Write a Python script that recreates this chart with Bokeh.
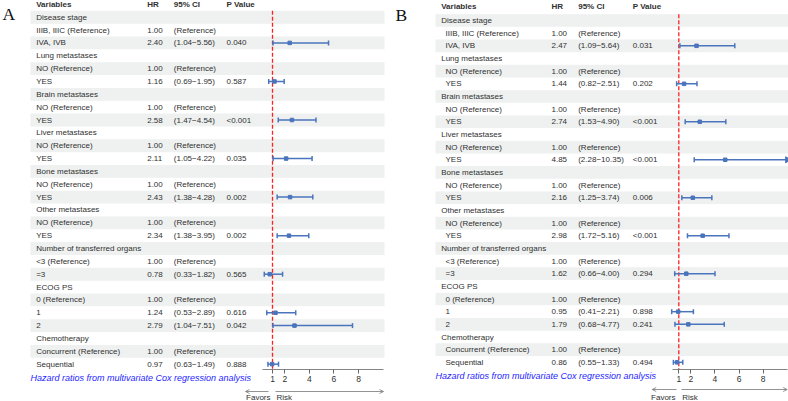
import math

from bokeh.core.properties import value
from bokeh.embed import file_html
from bokeh.layouts import row
from bokeh.models import Arrow, FixedTicker, Label, LinearAxis, OpenHead, Range1d
from bokeh.plotting import figure
from bokeh.resources import INLINE

NA = float("nan")

# Row labels shared by both models; group rows carry no estimate
variables = ["Disease stage", "IIIB, IIIC (Reference)", "IVA, IVB",
             "Lung metastases", "NO (Reference)", "YES",
             "Brain metastases", "NO (Reference)", "YES",
             "Liver metastases", "NO (Reference)", "YES",
             "Bone metastases", "NO (Reference)", "YES",
             "Other metastases", "NO (Reference)", "YES",
             "Number of transferred organs", "<3 (Reference)", "=3",
             "ECOG PS", "0 (Reference)", "1", "2",
             "Chemotherapy", "Concurrent (Reference)", "Sequential"]
group_rows = [0, 3, 6, 9, 12, 15, 18, 21, 25]

# Model A
hr_a = [NA, 1.00, 2.40, NA, 1.00, 1.16, NA, 1.00, 2.58, NA, 1.00, 2.11, NA, 1.00, 2.43,
        NA, 1.00, 2.34, NA, 1.00, 0.78, NA, 1.00, 1.24, 2.79, NA, 1.00, 0.97]
lo_a = [NA, NA, 1.04, NA, NA, 0.69, NA, NA, 1.47, NA, NA, 1.05, NA, NA, 1.38,
        NA, NA, 1.38, NA, NA, 0.33, NA, NA, 0.53, 1.04, NA, NA, 0.63]
hi_a = [NA, NA, 5.56, NA, NA, 1.95, NA, NA, 4.54, NA, NA, 4.22, NA, NA, 4.28,
        NA, NA, 3.95, NA, NA, 1.82, NA, NA, 2.89, 7.51, NA, NA, 1.49]
p_a = ["", "", "0.040", "", "", "0.587", "", "", "<0.001", "", "", "0.035", "", "", "0.002",
       "", "", "0.002", "", "", "0.565", "", "", "0.616", "0.042", "", "", "0.888"]

# Model B
hr_b = [NA, 1.00, 2.47, NA, 1.00, 1.44, NA, 1.00, 2.74, NA, 1.00, 4.85, NA, 1.00, 2.16,
        NA, 1.00, 2.98, NA, 1.00, 1.62, NA, 1.00, 0.95, 1.79, NA, 1.00, 0.86]
lo_b = [NA, NA, 1.09, NA, NA, 0.82, NA, NA, 1.53, NA, NA, 2.28, NA, NA, 1.25,
        NA, NA, 1.72, NA, NA, 0.66, NA, NA, 0.41, 0.68, NA, NA, 0.55]
hi_b = [NA, NA, 5.64, NA, NA, 2.51, NA, NA, 4.90, NA, NA, 10.35, NA, NA, 3.74,
        NA, NA, 5.16, NA, NA, 4.00, NA, NA, 2.21, 4.77, NA, NA, 1.33]
p_b = ["", "", "0.031", "", "", "0.202", "", "", "<0.001", "", "", "<0.001", "", "", "0.006",
       "", "", "<0.001", "", "", "0.294", "", "", "0.898", "0.241", "", "", "0.494"]

ticks = [1, 2, 4, 6, 8]
ref_hr = 1.0
headers = ["Variables", "HR", "95% CI", "P Value"]
footnote = "Hazard ratios from multivariate Cox regression analysis"
arrow_labels = ["Favors", "Risk"]

W, H = 394, 401
AXIS_PX = 369          # vertical pixel where the x axis sits
FONT = "Liberation Sans"
STRIPE = "#EEF1F0"
CI_COLOR = "#4A74BC"
TEXT = "#303030"
GREY = "#777777"


def panel(letter, hr, lo, hi, pv, lay):
    n = len(variables)
    y0, dy = lay["row1"], lay["step"]
    one, ppu = lay["one"], lay["ppu"]

    def row_at(px):
        return 1 + (px - y0) / dy

    p = figure(width=W, height=H, output_backend="svg", toolbar_location=None,
               x_range=Range1d(1 - one / ppu, 1 + (W - one) / ppu),
               y_range=Range1d(row_at(H), row_at(0)),
               x_axis_location=None, y_axis_location=None,
               min_border_left=0, min_border_right=0, min_border_top=0,
               min_border_bottom=0)
    p.extra_x_ranges = {"tbl": Range1d(0, W)}
    p.extra_y_ranges = {"px": Range1d(H, 0)}
    p.outline_line_color = None
    p.grid.visible = False
    p.background_fill_color = "white"
    p.border_fill_color = "white"

    rows = list(range(1, n + 1))

    # zebra stripes on alternate rows
    sr = [r for r in rows if r % 2 == 1]
    p.quad(left=lay["x0"], right=lay["x1"], top=[r - 0.5 for r in sr],
           bottom=[r + 0.5 for r in sr], x_range_name="tbl",
           fill_color=STRIPE, line_color=None)

    # table columns
    var_x = [lay["var"] if i in group_rows else lay["var"] + lay["indent"] for i in range(n)]
    hr_txt = ["" if math.isnan(h) else f"{h:.2f}" for h in hr]
    ci_txt = ["" if math.isnan(h) else
              ("(Reference)" if math.isnan(l) else f"({l:.2f}\u2212{u:.2f})")
              for h, l, u in zip(hr, lo, hi)]
    common = dict(x_range_name="tbl", text_font=value(FONT), text_font_size="8px",
                  text_baseline="middle", text_align="left", text_color=TEXT)
    p.text(x=var_x, y=rows, text=variables, **common)
    p.text(x=[lay["hr"]] * n, y=rows, text=hr_txt, **common)
    p.text(x=[lay["ci"]] * n, y=rows, text=ci_txt, **common)
    p.text(x=[lay["p"]] * n, y=rows, text=pv, **common)

    # header row
    hdr = dict(common)
    hdr["text_font_style"] = "bold"
    hdr["y_range_name"] = "px"
    p.text(x=[lay["var"], lay["hr"], lay["ci"], lay["p"]], y=[lay["head"]] * 4,
           text=headers, **hdr)

    # reference line at HR = 1
    p.segment(x0=[ref_hr], y0=[0.5], x1=[ref_hr], y1=[row_at(AXIS_PX)],
              line_color="#FF2020", line_width=1.3, line_dash="4 2")

    # confidence intervals
    xmax = lay["xlim"][1]
    idx = [i for i in range(n) if not math.isnan(lo[i])]
    ys = [rows[i] for i in idx]
    los = [lo[i] for i in idx]
    his = [min(hi[i], xmax) for i in idx]
    p.segment(x0=los, y0=ys, x1=his, y1=ys, line_color=CI_COLOR, line_width=1.5)
    p.scatter(x=los, y=ys, marker="dash", angle=math.pi / 2, size=5,
              line_color=CI_COLOR, line_width=1.5)
    capx = [hi[i] for i in idx if hi[i] <= xmax]
    capy = [rows[i] for i in idx if hi[i] <= xmax]
    p.scatter(x=capx, y=capy, marker="dash", angle=math.pi / 2, size=5,
              line_color=CI_COLOR, line_width=1.5)
    over = [rows[i] for i in idx if hi[i] > xmax]
    if over:
        p.scatter(x=[xmax] * len(over), y=over, marker="triangle", angle=-math.pi / 2,
                  size=6, fill_color=CI_COLOR, line_color=CI_COLOR)
    p.scatter(x=[hr[i] for i in idx], y=ys, marker="square", size=3.5,
              fill_color=CI_COLOR, line_color=CI_COLOR)

    # x axis drawn inside the frame, just under the last row
    ax = LinearAxis(ticker=FixedTicker(ticks=ticks), bounds=lay["xlim"],
                    fixed_location=row_at(AXIS_PX),
                    axis_line_color="#666666", axis_line_width=0.8,
                    major_tick_line_color="#666666", major_tick_out=4, major_tick_in=0,
                    minor_tick_out=0, minor_tick_in=0,
                    major_label_text_font=FONT, major_label_text_font_size="8.5px",
                    major_label_text_color=TEXT, major_label_standoff=2)
    p.add_layout(ax, "below")

    # panel letter
    p.add_layout(Label(x=lay["letter_x"], y=lay["letter_y"], x_range_name="tbl",
                       y_range_name="px", text=letter, text_font="Liberation Serif",
                       text_font_size="17.5px", text_baseline="top", text_color="#111111"))

    # footnote
    p.add_layout(Label(x=lay["x0"], y=lay["foot_y"], x_range_name="tbl", y_range_name="px",
                       text=footnote, text_font=FONT, text_font_style="italic",
                       text_font_size="9px", text_baseline="middle", text_color="#1E1EFF"))

    # direction arrows under the axis
    ay = lay["arrow_y"]
    for xs, xe in (lay["left_arrow"], lay["right_arrow"]):
        p.add_layout(Arrow(x_start=xs, y_start=ay, x_end=xe, y_end=ay,
                           x_range_name="tbl", y_range_name="px",
                           line_color=GREY, line_width=0.8,
                           end=OpenHead(size=4, line_color=GREY, line_width=0.8)))
    p.add_layout(Label(x=lay["favors_x"], y=lay["lab_y"], x_range_name="tbl",
                       y_range_name="px", text=arrow_labels[0], text_font=FONT,
                       text_font_size="8px", text_align="right", text_baseline="middle",
                       text_color=TEXT))
    p.add_layout(Label(x=lay["risk_x"], y=lay["lab_y"], x_range_name="tbl",
                       y_range_name="px", text=arrow_labels[1], text_font=FONT,
                       text_font_size="8px", text_align="left", text_baseline="middle",
                       text_color=TEXT))
    return p


layout_a = dict(row1=16.7, step=12.85, one=272.0, ppu=12.29, head=3.8,
                x0=30, x1=384, var=35.7, indent=0, hr=146.7, ci=173.3, p=226,
                xlim=(0.2, 10), letter_x=2, letter_y=3, foot_y=377,
                arrow_y=391, left_arrow=(268, 245), right_arrow=(275, 383),
                favors_x=270, risk_x=276, lab_y=397)
layout_b = dict(row1=20.0, step=12.66, one=284.3, ppu=12.06, head=6.0,
                x0=41, x1=394, var=46.7, indent=4.3, hr=157, ci=183.7, p=238.3,
                xlim=(0.5, 10), letter_x=1, letter_y=4.5, foot_y=375.7,
                arrow_y=389, left_arrow=(282, 257.7), right_arrow=(287, 392.7),
                favors_x=281, risk_x=287.7, lab_y=396.5)

pa = panel("A", hr_a, lo_a, hi_a, p_a, layout_a)
pb = panel("B", hr_b, lo_b, hi_b, p_b, layout_b)

page = row(pa, pb)
open("out.html", "w").write(file_html(page, INLINE))
